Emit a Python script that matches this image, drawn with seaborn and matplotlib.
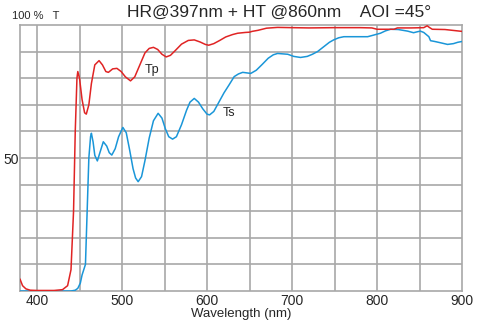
import matplotlib
matplotlib.use("Agg")
import matplotlib.pyplot as plt
import seaborn as sns
import pandas as pd

tp_wl = [380, 383, 387, 392, 400, 420, 430, 436, 440, 443, 445, 447, 448, 450, 453, 456, 458, 461, 464, 468,
         473, 477, 481, 484, 489, 494, 499, 504, 510, 515, 521, 527, 532, 537, 542, 547, 552, 557, 563, 570,
         578, 585, 592, 598, 602, 608, 615, 622, 630, 636, 645, 650, 653, 660, 670, 683, 700, 720, 750, 780,
         794, 800, 820, 824, 840, 855, 859, 862, 865, 880, 900]
tp_val = [4.5, 2, 0.8, 0.3, 0.2, 0.2, 0.5, 2, 8, 30, 60, 80, 82.5, 80, 72, 67, 66.5, 70, 78, 85,
          86.6, 85, 82.5, 82.2, 83.5, 83.7, 82.5, 80.5, 79, 80.5, 85, 89.5, 91.2, 91.6, 90.8, 89, 88, 88.6, 90.5, 92.8,
          94.2, 94.4, 93.6, 92.7, 92.4, 93, 94.2, 95.5, 96.4, 96.9, 97.2, 97.3, 97.6, 98, 98.8, 99.1, 99, 98.9, 99, 99,
          98.9, 98.4, 98.4, 98.9, 98.9, 99, 99.7, 99, 98.4, 98.3, 97.6]

ts_wl = [380, 440, 445, 448, 451, 453, 455, 457, 459, 461, 463, 464, 466, 468, 471, 474, 478, 482, 485, 488,
         492, 496, 501, 505, 509, 513, 516, 519, 523, 527, 532, 537, 542.5, 547, 551, 555, 559.5, 564, 570, 576,
         580, 585, 590, 595, 600, 603, 608, 614, 620, 626, 632, 637, 642, 651.5, 658, 665, 672, 678, 683, 695,
         702, 710, 718, 724, 730, 738, 744, 749, 755, 761, 775, 789, 796, 804, 810, 816, 825, 836, 843, 848,
         851, 855, 858, 861, 863, 868, 875, 883, 890, 895, 900]
ts_val = [0, 0, 0.3, 1, 3, 6, 8, 10, 30, 50, 58, 59.3, 56, 51, 48.9, 52, 56.1, 54.5, 52, 51.1,
          53.5, 58, 61.5, 59.5, 53, 46, 42.5, 41.1, 43, 49, 57.5, 64, 66.8, 65, 61, 58, 57.1, 58, 62.5, 68,
          71, 72.4, 71, 68.5, 66.5, 66.2, 67.5, 71, 74.5, 77.5, 80.6, 81.6, 82.2, 81.8, 83, 85.2, 87.5, 88.8, 89.3, 89,
          88.2, 87.8, 88.2, 89, 90, 92, 93.5, 94.4, 95.2, 95.6, 95.6, 95.6, 96.2, 96.9, 97.8, 98.4, 98.3, 97.7, 97.1, 97.5,
          97.7, 97.2, 96.4, 95.6, 94.1, 93.8, 93.3, 92.7, 93, 93.5, 93.8]

x_ticks = [400, 500, 600, 700, 800, 900]
title = "HR@397nm + HT @860nm    AOI =45°"

sns.set_style("white")
plt.rcParams['font.family'] = ['Liberation Sans', 'DejaVu Sans']

fig = plt.figure(figsize=(4.93, 3.26), dpi=100)
ax = fig.add_axes([20/493, 35/326, 442/493, 266/326])

df_p = pd.DataFrame({"wl": tp_wl, "T": tp_val})
df_s = pd.DataFrame({"wl": ts_wl, "T": ts_val})
sns.lineplot(data=df_s, x="wl", y="T", ax=ax, color="#1a96d8", linewidth=1.1, zorder=3)
sns.lineplot(data=df_p, x="wl", y="T", ax=ax, color="#e02424", linewidth=1.1, zorder=4)

ax.set_xlim(380, 900)
ax.set_ylim(0, 100)
for v in range(400, 900, 50):
    ax.axvline(v, color="#a8a8a8", linewidth=1.2, zorder=1)
for v in range(10, 100, 10):
    ax.axhline(v, color="#a8a8a8", linewidth=1.2, zorder=1)
for s in ax.spines.values():
    s.set_color("#a8a8a8")
    s.set_linewidth(1.2)

ax.set_xticks(x_ticks)
ax.set_xticklabels([str(t) for t in x_ticks], fontsize=10)
ax.set_yticks([50])
ax.set_yticklabels(["50"], fontsize=10)
ax.tick_params(axis="x", length=0, pad=2)
ax.tick_params(axis="y", length=0, pad=1)
ax.set_xlabel("Wavelength (nm)", fontsize=9.5, labelpad=0)
ax.set_ylabel("")

ax.text(527, 83, "Tp", fontsize=9, va="center", ha="left")
ax.text(618, 67, "Ts", fontsize=9, va="center", ha="left")

fig.text(12/493, 1 - 16/326, "100 %   T", fontsize=8, va="center", ha="left")
fig.text(279/493, 1 - 12/326, title, fontsize=12.5, va="center", ha="center")

fig.savefig("out.png", dpi=100)
